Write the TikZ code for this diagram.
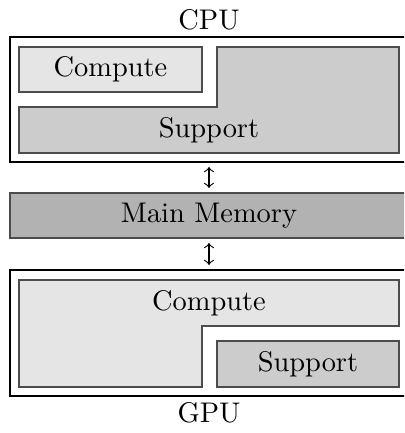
\documentclass[tikz,border=0pt]{standalone}
\usetikzlibrary{fit}
\begin{document}
\begin{tikzpicture}[x=0.352pt,y=-0.352pt,
  unit/.style={draw=black,line width=0.5pt,inner sep=0pt,outer sep=0pt},
  part/.style={draw=black!70,line width=0.4pt},
  computefill/.style={part,fill=black!10},
  supportfill/.style={part,fill=black!20},
  memfill/.style={part,fill=black!30,inner sep=0pt,outer sep=0pt},
  link/.style={<->,>=to,line width=0.4pt,shorten >=5*0.352pt,shorten <=5*0.352pt}]
  \clip (0,0) rectangle (404,433);

  % CPU
  \node[unit,fit={(10,37) (408,162)}] (cpu) {};
  \node (cpulabel) at (209,20) {CPU};
  \node[computefill,inner sep=0pt,fit={(19,47) (202,92)}] (cpucompute) {};
  \node at (cpucompute.center) {Compute};
  \draw[supportfill] (19,107) -- (217,107) -- (217,47) -- (399,47) -- (399,153) -- (19,153) -- cycle;
  \node (cpusupport) at (209,130) {Support};

  % Main memory
  \node[memfill,fit={(10,193) (408,238)}] (mem) {};
  \node at (209,215.5) {Main Memory};

  % GPU
  \node[unit,fit={(10,270) (408,396)}] (gpu) {};
  \node (gpulabel) at (209,413) {GPU};
  \draw[computefill] (19,280) -- (399,280) -- (399,326) -- (202,326) -- (202,387) -- (19,387) -- cycle;
  \node (gpucompute) at (209,303) {Compute};
  \node[supportfill,inner sep=0pt,fit={(217,341) (399,387)}] (gpusupport) {};
  \node at (gpusupport.center) {Support};

  % connections to memory
  \draw[link] (cpu.south) -- (mem.north);
  \draw[link] (mem.south) -- (gpu.north);
\end{tikzpicture}
\end{document}
